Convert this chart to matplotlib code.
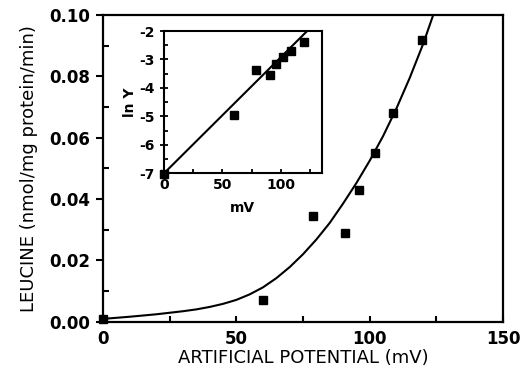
import numpy as np
import matplotlib
matplotlib.use("Agg")
import matplotlib.pyplot as plt
from matplotlib.ticker import MultipleLocator

# measured points
potential = [0, 60, 78.7, 90.7, 96, 102, 108.7, 119.5]          # mV
leucine = [0.0009, 0.0072, 0.0345, 0.0290, 0.0429, 0.0549, 0.0680, 0.0918]

# fitted curve as drawn in the figure
curve_mv = [0, 10, 20, 30, 35, 40, 45, 50, 55, 60, 65, 70, 75, 80, 85, 90, 95,
            100, 105, 110, 115, 120, 124]
curve_leu = [0.0009, 0.0016, 0.0024, 0.0034, 0.0040, 0.0048, 0.0058, 0.0071,
             0.0089, 0.0112, 0.0142, 0.0178, 0.0220, 0.0268, 0.0322, 0.0385,
             0.0452, 0.0525, 0.0605, 0.0695, 0.0795, 0.0905, 0.1005]

# inset regression line  ln Y = a + b * mV
inset_a = -7.0
inset_b = 0.0408

plt.rcParams['font.family'] = 'DejaVu Sans'
plt.rcParams['axes.unicode_minus'] = False

fig = plt.figure(figsize=(5.23, 3.82), dpi=100)
ax = fig.add_axes([0.197, 0.158, 0.765, 0.803])

ax.plot(curve_mv, curve_leu, color='black', lw=1.5)
ax.plot(potential, leucine, 's', color='black', ms=6, clip_on=False, zorder=5)

ax.set_xlim(0, 150)
ax.set_ylim(0, 0.10)
ax.xaxis.set_major_locator(MultipleLocator(50))
ax.xaxis.set_minor_locator(MultipleLocator(25))
ax.yaxis.set_major_locator(MultipleLocator(0.02))
ax.yaxis.set_minor_locator(MultipleLocator(0.01))
ax.yaxis.set_major_formatter(plt.FormatStrFormatter('%.2f'))
ax.tick_params(axis='x', which='both', direction='in', length=4, width=1.5,
               labelsize=12, pad=6)
ax.tick_params(axis='y', which='major', direction='out', length=5, width=1.5,
               labelsize=12, pad=4)
ax.tick_params(axis='y', which='minor', direction='in', length=4, width=1.5)
for lab in ax.get_xticklabels() + ax.get_yticklabels():
    lab.set_fontweight('bold')
for sp in ax.spines.values():
    sp.set_linewidth(1.6)

ax.set_xlabel('ARTIFICIAL POTENTIAL (mV)', fontsize=13, labelpad=1)
ax.set_ylabel('LEUCINE (nmol/mg protein/min)', fontsize=13, labelpad=8)

# inset
ins = fig.add_axes([0.3136, 0.5463, 0.3015, 0.3725])
x_line = np.array([0, 135])
ins.plot(x_line, inset_a + inset_b * x_line, color='black', lw=1.5)
ins.plot(potential, np.log(leucine), 's', color='black', ms=6,
         clip_on=False, zorder=5)
ins.set_xlim(0, 135)
ins.set_ylim(-7, -2)
ins.xaxis.set_major_locator(MultipleLocator(50))
ins.xaxis.set_minor_locator(MultipleLocator(25))
ins.yaxis.set_major_locator(MultipleLocator(1))
ins.yaxis.set_minor_locator(MultipleLocator(0.5))
ins.tick_params(axis='x', which='both', direction='in', length=3, width=1.3,
                labelsize=10)
ins.tick_params(axis='y', which='major', direction='inout', length=6,
                width=1.3, labelsize=10)
ins.tick_params(axis='y', which='minor', direction='in', length=3, width=1.3)
for lab in ins.get_xticklabels() + ins.get_yticklabels():
    lab.set_fontweight('bold')
for sp in ins.spines.values():
    sp.set_linewidth(1.5)
ins.set_xlabel('mV', fontsize=10, fontweight='bold', labelpad=6)
ins.set_ylabel('ln Y', fontsize=10, fontweight='bold', labelpad=2)

fig.savefig('out.png', dpi=100)
